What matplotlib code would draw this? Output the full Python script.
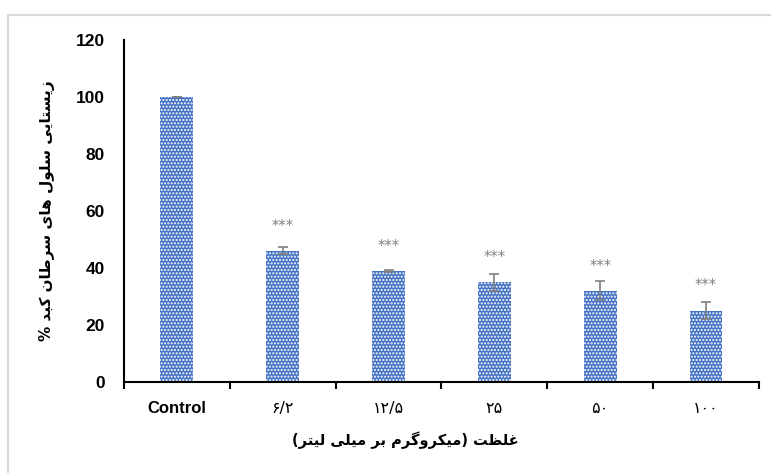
import matplotlib
matplotlib.use("Agg")
import matplotlib.pyplot as plt
from matplotlib.lines import Line2D
import numpy as np

# data
categories = ["Control", "۶/۲", "۱۲/۵", "۲۵", "۵۰", "۱۰۰"]
viability = [100, 46, 39, 35, 32, 25]
errors = [0, 1.2, 0.4, 3.0, 3.3, 3.0]
stars = ["", "***", "***", "***", "***", "***"]
yLabelText = "زیستایی سلول های سرطان کبد %"
xLabelText = "غلظت (میکروگرم بر میلی لیتر)"

# matplotlib has no arabic shaping, so pick the presentation forms by hand
# (isolated, final, initial, medial); None = letter only joins to the right
FORMS = {
    'ا': ('\uFE8D', '\uFE8E', None, None),
    'ب': ('\uFE8F', '\uFE90', '\uFE91', '\uFE92'),
    'ت': ('\uFE95', '\uFE96', '\uFE97', '\uFE98'),
    'د': ('\uFEA9', '\uFEAA', None, None),
    'ر': ('\uFEAD', '\uFEAE', None, None),
    'ز': ('\uFEAF', '\uFEB0', None, None),
    'س': ('\uFEB1', '\uFEB2', '\uFEB3', '\uFEB4'),
    'ط': ('\uFEC1', '\uFEC2', '\uFEC3', '\uFEC4'),
    'ظ': ('\uFEC5', '\uFEC6', '\uFEC7', '\uFEC8'),
    'غ': ('\uFECD', '\uFECE', '\uFECF', '\uFED0'),
    'ل': ('\uFEDD', '\uFEDE', '\uFEDF', '\uFEE0'),
    'م': ('\uFEE1', '\uFEE2', '\uFEE3', '\uFEE4'),
    'ن': ('\uFEE5', '\uFEE6', '\uFEE7', '\uFEE8'),
    'ه': ('\uFEE9', '\uFEEA', '\uFEEB', '\uFEEC'),
    'و': ('\uFEED', '\uFEEE', None, None),
    'ک': ('\uFB8E', '\uFB8F', '\uFB90', '\uFB91'),
    'گ': ('\uFB92', '\uFB93', '\uFB94', '\uFB95'),
    'ی': ('\uFBFC', '\uFBFD', '\uFBFE', '\uFBFF'),
}


def shape(text):
    out = []
    for i, ch in enumerate(text):
        if ch not in FORMS:
            out.append(ch)
            continue
        prev = text[i - 1] if i > 0 else ''
        nxt = text[i + 1] if i + 1 < len(text) else ''
        iso, fin, ini, med = FORMS[ch]
        joinPrev = prev in FORMS and FORMS[prev][2] is not None
        joinNext = ini is not None and nxt in FORMS
        if joinPrev and joinNext:
            out.append(med)
        elif joinPrev:
            out.append(fin)
        elif joinNext:
            out.append(ini)
        else:
            out.append(iso)
    # right to left: reverse for display and mirror the brackets
    vis = ''.join(reversed(out))
    return vis.translate(str.maketrans('()', ')('))


plt.rcParams['hatch.linewidth'] = 1.0

fig = plt.figure(figsize=(7.71, 4.73), dpi=100)
ax = fig.add_axes([0.1608, 0.1924, 0.8236, 0.7230])

x = np.arange(len(categories))
ax.bar(x, viability, width=0.31, color='#4472C4', edgecolor='white',
       hatch='.....', linewidth=0, zorder=2)
ax.errorbar(x, viability, yerr=errors, fmt='none', ecolor='#7f7f7f',
            elinewidth=1.2, capsize=3.6, capthick=1.2, zorder=3)
for xi, v, s in zip(x, viability, stars):
    if s:
        ax.text(xi, v + 8.7, s, ha='center', va='center', fontsize=10.5,
                color='#808080', fontfamily='DejaVu Sans')

ax.set_xlim(-0.5, 5.5)
ax.set_ylim(0, 120)
ax.set_yticks(np.arange(0, 121, 20))
ax.set_xticks(x)
ax.set_xticklabels(categories)
ax.set_xticks(np.arange(-0.5, 6, 1), minor=True)

ax.tick_params(axis='y', length=0, pad=14)
ax.tick_params(axis='x', which='major', length=0, pad=14)
ax.tick_params(axis='x', which='minor', length=5, width=1.5, direction='out')

for lab in ax.get_yticklabels():
    lab.set_fontfamily('Liberation Sans')
    lab.set_fontweight('bold')
    lab.set_fontsize(12.5)
for lab in ax.get_xticklabels():
    if lab.get_text() == 'Control':
        lab.set_fontfamily('Liberation Sans')
        lab.set_fontweight('bold')
        lab.set_fontsize(12)
    else:
        lab.set_fontfamily('DejaVu Sans')
        lab.set_fontsize(11.5)

for side in ['top', 'right']:
    ax.spines[side].set_visible(False)
for side in ['left', 'bottom']:
    ax.spines[side].set_linewidth(1.5)
ax.spines['left'].set_bounds(0, 120)

ax.set_ylabel(shape(yLabelText), fontfamily='DejaVu Sans', fontweight='bold',
              fontsize=11)
ax.yaxis.set_label_coords(-0.108, 0.5)
ax.set_xlabel(shape(xLabelText), fontfamily='DejaVu Sans', fontweight='bold',
              fontsize=10.5)
ax.xaxis.set_label_coords(0.4425, -0.145)

# light frame of the chart area (top and left edges only)
fig.add_artist(Line2D([8 / 771, 8 / 771], [0, 1 - 15 / 473], color='#d9d9d9',
                      lw=1.5, transform=fig.transFigure))
fig.add_artist(Line2D([8 / 771, 1], [1 - 15 / 473, 1 - 15 / 473], color='#d9d9d9',
                      lw=1.5, transform=fig.transFigure))

fig.savefig('out.png', dpi=100)
